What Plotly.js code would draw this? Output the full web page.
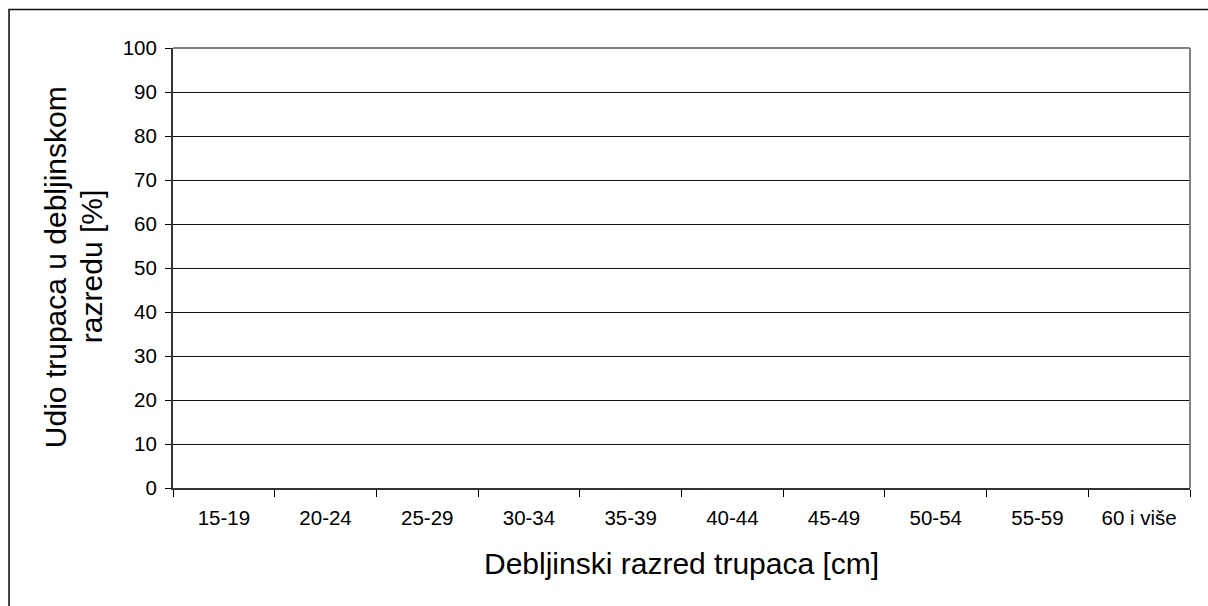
<!DOCTYPE html>
<html>
<head>
<meta charset="utf-8">
<script src="https://cdn.plot.ly/plotly-3.0.1.min.js"></script>
<style>html,body{margin:0;padding:0;background:#fff;}#chart{width:1208px;height:606px;}</style>
</head>
<body>
<div id="chart"></div>
<script>
// Categories (diameter classes) and series values (none shown in the chart)
const categories = ["15-19", "20-24", "25-29", "30-34", "35-39", "40-44", "45-49", "50-54", "55-59", "60 i više"];
const shares = [null, null, null, null, null, null, null, null, null, null];
const yTickValues = [0, 10, 20, 30, 40, 50, 60, 70, 80, 90, 100];
const xTitle = "Debljinski razred trupaca [cm]";
const yTitleLine1 = "Udio trupaca u debljinskom";
const yTitleLine2 = "razredu [%]";

const FONT = "'Liberation Sans', Arial, sans-serif";

const trace = {
  type: "bar",
  x: categories,
  y: shares,
  marker: {color: "#9999ff"},
  showlegend: false,
  hoverinfo: "skip"
};

const layout = {
  width: 1208,
  height: 606,
  margin: {l: 173, r: 18, t: 48, b: 118, pad: 0},
  paper_bgcolor: "#ffffff",
  plot_bgcolor: "#ffffff",
  font: {family: FONT, color: "#000"},
  showlegend: false,
  xaxis: {
    type: "category",
    categoryorder: "array",
    categoryarray: categories,
    range: [-0.5, categories.length - 0.5],
    tickson: "boundaries",
    ticks: "outside",
    ticklen: 7,
    tickwidth: 1,
    tickcolor: "#000",
    showgrid: false,
    showline: true,
    linecolor: "#333",
    linewidth: 2,
    zeroline: false,
    tickfont: {family: FONT, size: 20.5, color: "#000"},
    ticklabelstandoff: 10,
    fixedrange: true
  },
  yaxis: {
    range: [0, 100],
    tickvals: yTickValues,
    ticktext: yTickValues.map(String),
    ticks: "outside",
    ticklen: 6,
    tickwidth: 1,
    tickcolor: "#000",
    showgrid: true,
    gridcolor: "#111",
    gridwidth: 1,
    showline: true,
    linecolor: "#333",
    linewidth: 2,
    zeroline: false,
    tickfont: {family: FONT, size: 20.5, color: "#000"},
    ticklabelstandoff: 4,
    fixedrange: true
  },
  shapes: [
    // plot area border (top and right, gray)
    {type: "line", xref: "paper", yref: "paper", x0: 0, x1: 1, y0: 1, y1: 1, line: {color: "#808080", width: 2}, layer: "above"},
    {type: "line", xref: "paper", yref: "paper", x0: 1, x1: 1, y0: 0, y1: 1, line: {color: "#808080", width: 2}, layer: "above"},
    // outer chart border
    {type: "rect", xref: "paper", yref: "paper", x0: -0.1612, x1: 1.2, y0: -0.5, y1: 1.0876, line: {color: "#111", width: 1.6}, fillcolor: "rgba(0,0,0,0)", layer: "above"}
  ],
  annotations: [
    {text: xTitle, xref: "paper", yref: "paper", x: 0.5, y: -0.1705, xanchor: "center", yanchor: "middle", showarrow: false, font: {family: FONT, size: 30, color: "#000"}},
    {text: yTitleLine1, xref: "paper", yref: "paper", x: -0.116, y: 0.502, xanchor: "center", yanchor: "middle", textangle: -90, showarrow: false, font: {family: FONT, size: 30, color: "#000"}},
    {text: yTitleLine2, xref: "paper", yref: "paper", x: -0.0806, y: 0.502, xanchor: "center", yanchor: "middle", textangle: -90, showarrow: false, font: {family: FONT, size: 30, color: "#000"}}
  ]
};

Plotly.newPlot("chart", [trace], layout, {displayModeBar: false, staticPlot: true});
</script>
</body>
</html>
